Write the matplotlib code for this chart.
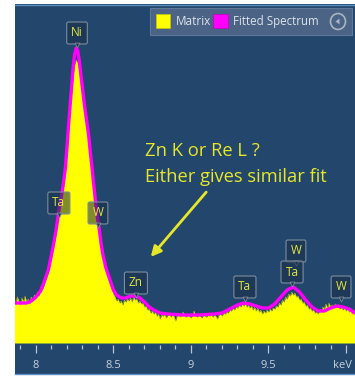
import numpy as np
import matplotlib.pyplot as plt
from matplotlib.patches import Rectangle, Circle, Polygon
from matplotlib.lines import Line2D
from matplotlib.ticker import MultipleLocator
import matplotlib.transforms as mtransforms

plt.rcParams['font.family'] = ['Open Sans', 'DejaVu Sans']

# measured spectrum (counts, arbitrary units), 0.01 keV channels from 7.86 keV
e_start, e_step = 7.86, 0.01
spectrum = [
    44, 39, 46, 42, 38, 45, 41, 47, 40, 44,
    39, 46, 42, 48, 45, 51, 47, 56, 53, 57,
    62, 66, 71, 78, 85, 93, 101, 110, 120, 131,
    140, 149, 158, 171, 190, 212, 232, 250, 268, 279,
    283, 280, 274, 262, 250, 238, 226, 215, 203, 188,
    174, 159, 144, 130, 118, 108, 97, 87, 80, 73,
    68, 63, 58, 54, 49, 46, 42, 44, 40, 42,
    38, 43, 41, 44, 42, 45, 41, 46, 43, 44,
    40, 42, 39, 40, 36, 37, 33, 34, 30, 32,
    29, 31, 27, 29, 24, 28, 27, 29, 25, 28,
    30, 26, 28, 27, 22, 27, 29, 26, 28, 31,
    27, 26, 28, 27, 25, 28, 32, 27, 26, 28,
    27, 25, 28, 27, 26, 28, 27, 29, 26, 28,
    27, 24, 28, 29, 27, 30, 29, 31, 30, 33,
    32, 35, 33, 36, 35, 38, 36, 39, 37, 40,
    36, 38, 35, 37, 33, 36, 32, 35, 31, 33,
    29, 32, 30, 33, 31, 34, 32, 35, 34, 37,
    36, 40, 38, 43, 41, 46, 44, 49, 47, 51,
    48, 50, 46, 47, 43, 44, 40, 41, 37, 38,
    34, 35, 32, 33, 30, 31, 29, 33, 31, 36,
    34, 39, 35, 40, 36, 38, 35, 39, 36, 38,
    34, 37, 33, 36, 32, 35, 31, 33, 29, 31,
    28,
]
energy = e_start + e_step * np.arange(len(spectrum))

# fitted spectrum
fit_e = [7.86, 7.90, 7.94, 7.97, 8.00, 8.03, 8.05, 8.08, 8.11, 8.13,
         8.15, 8.17, 8.19, 8.20, 8.21, 8.22, 8.23, 8.24, 8.25, 8.26,
         8.27, 8.28, 8.29, 8.30, 8.31, 8.32, 8.33, 8.34, 8.35, 8.36,
         8.37, 8.38, 8.39, 8.40, 8.41, 8.42, 8.43, 8.44, 8.45, 8.46,
         8.48, 8.50, 8.52, 8.55, 8.58, 8.61, 8.64, 8.67, 8.70, 8.73,
         8.76, 8.80, 8.85, 8.95, 9.05, 9.15, 9.20, 9.25, 9.30, 9.34,
         9.38, 9.42, 9.46, 9.50, 9.54, 9.58, 9.62, 9.66, 9.70, 9.74,
         9.78, 9.82, 9.86, 9.90, 9.94, 9.98, 10.02, 10.06]
fit_c = [40, 40, 40, 42, 46, 52, 60, 73, 96, 113,
         135, 152, 175, 195, 217, 237, 256, 276, 289, 295,
         292, 282, 268, 255, 242, 230, 219, 208, 192, 178,
         163, 148, 133, 122, 112, 100, 90, 83, 76, 71,
         62, 53, 48, 45, 45, 47, 47, 45, 41, 36,
         33, 30, 29, 28, 28, 29, 30, 34, 38, 40,
         39, 37, 35, 35, 39, 46, 53, 56, 51, 43,
         36, 32, 32, 35, 37, 36, 34, 30]

# element markers
peak_names = ['Ni', 'Ta', 'W', 'Zn', 'Ta', 'W', 'Ta', 'W']
peak_e = [8.265, 8.148, 8.400, 8.645, 9.348, 9.677, 9.652, 9.968]
peak_y = [310, 140, 130, 60, 56, 92, 71, 56]

xticks = [8, 8.5, 9, 9.5, 10]
xticklabels = ['8', '8.5', '9', '9.5', 'keV']

W, H = 355, 377
fig = plt.figure(figsize=(W / 100, H / 100), dpi=100)
fig.patch.set_facecolor('white')

def fx(px):
    return px / W

def fy(py):
    return 1 - py / H

bg = '#23466d'
fig.add_artist(Rectangle((fx(15), fy(374)), 340 / W, 370 / H, transform=fig.transFigure,
                         fc=bg, ec='none', zorder=0))
fig.add_artist(Line2D([fx(15), 1], [fy(4.5), fy(4.5)], transform=fig.transFigure,
                      color='#5d8ec4', lw=1, zorder=1))
fig.add_artist(Line2D([fx(15), 1], [fy(373.5), fy(373.5)], transform=fig.transFigure,
                      color='#5d8ec4', lw=1, zorder=1))

ax = fig.add_axes([fx(15), fy(343), 340 / W, 338 / H])
ax.set_facecolor('none')
ax.set_xlim(7.865, 10.058)
ax.set_ylim(0, 338)
for s in ax.spines.values():
    s.set_visible(False)
ax.spines['bottom'].set_position(('outward', 1.5))
ax.set_yticks([])
ax.set_xticks(xticks)
ax.set_xticklabels(xticklabels)
ax.xaxis.set_minor_locator(MultipleLocator(0.1))
ax.tick_params(axis='x', which='major', length=6, width=0.9, color='#b9c3cf',
               pad=5, labelsize=8, labelcolor='#c9d1db')
ax.tick_params(axis='x', which='minor', length=2.6, width=0.9, color='#b9c3cf')
kev = ax.get_xticklabels()[-1]
kev.set_transform(kev.get_transform() + mtransforms.ScaledTranslation(-4 / 100, 0, fig.dpi_scale_trans))

ax.fill_between(energy, 0, spectrum, color='#ffff00', lw=0, zorder=2)
ax.plot(energy, spectrum, color='#b8b820', lw=0.4, zorder=2)
ax.plot(fit_e, fit_c, color='#ff00ff', lw=2.4, zorder=3, solid_joinstyle='round')

for i, (n, e, y) in enumerate(zip(peak_names, peak_e, peak_y)):
    ax.text(e, y, n, ha='center', va='center', color='#e4e83c', fontsize=8.5, zorder=5 + i,
            bbox=dict(boxstyle='round,pad=0.38,rounding_size=0.15',
                      fc=(0.10, 0.18, 0.28, 0.55), ec='#7d8c9c', lw=0.8))
    ax.plot(e, y - 12, marker='v', ms=3.5, mfc=(0.10, 0.18, 0.28, 0.8), mec='#7d8c9c',
            mew=0.6, zorder=5 + i)

ax.text(8.703, 192, 'Zn K or Re L ?', color='#e6e62a', fontsize=13.2, va='center', zorder=10)
ax.text(8.703, 166, 'Either gives similar fit', color='#e6e62a', fontsize=13.2, va='center', zorder=10)
ax.annotate('', xy=(8.729, 84), xytext=(9.110, 153),
            arrowprops=dict(arrowstyle='-|>', color='#e6e62a', lw=2, mutation_scale=15))

# legend panel
fig.add_artist(Rectangle((fx(150), fy(35)), 202 / W, 27 / H, transform=fig.transFigure,
                         fc='#4b6485', ec='#5f7898', lw=0.8, zorder=20))
fig.add_artist(Rectangle((fx(156), fy(28)), 14 / W, 14 / H, transform=fig.transFigure,
                         fc='#ffff00', ec='#c8c800', lw=0.5, zorder=21))
fig.text(fx(176), fy(21.5), 'Matrix', color='#dde2ea', fontsize=8.5, va='center', zorder=21)
fig.add_artist(Rectangle((fx(213), fy(28)), 15 / W, 14 / H, transform=fig.transFigure,
                         fc='#ff00ff', ec='#c800c8', lw=0.5, zorder=21))
fig.text(fx(233), fy(21.5), 'Fitted Spectrum', color='#dde2ea', fontsize=8.3, va='center', zorder=21)
fig.add_artist(Circle((fx(338), fy(21.5)), 7.5 / W, transform=fig.transFigure,
                      fc='none', ec='#a9b4c2', lw=1.2, zorder=21))
fig.add_artist(Polygon([(fx(335.5), fy(21.5)), (fx(339.5), fy(18.5)), (fx(339.5), fy(24.5))],
                       transform=fig.transFigure, fc='#a9b4c2', ec='none', zorder=21))

fig.savefig('out.png', dpi=100)
